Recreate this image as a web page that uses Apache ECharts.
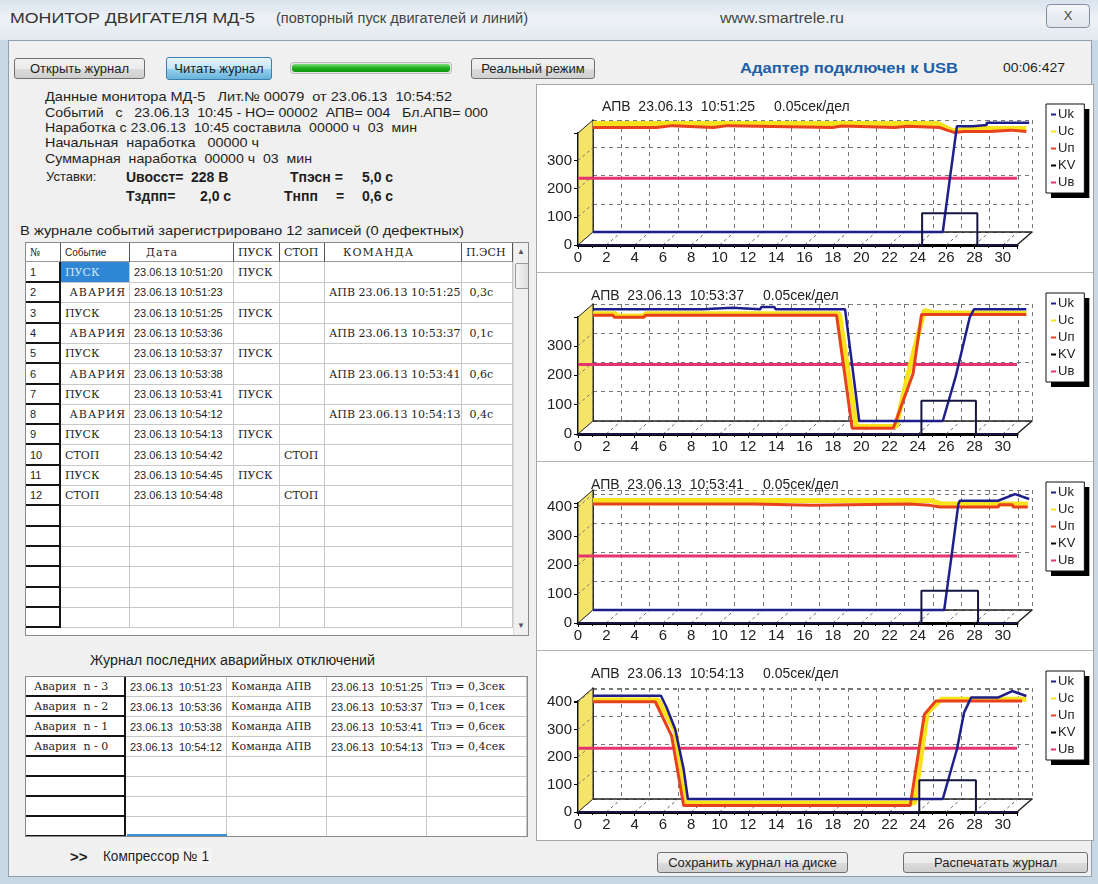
<!DOCTYPE html>
<html>
<head>
<meta charset="utf-8">
<script src="https://cdn.jsdelivr.net/npm/echarts/dist/echarts.min.js"></script>
<style>
html, body { margin: 0; padding: 0; }
body { width: 1098px; height: 884px; position: relative; overflow: hidden; background: #c9d6e3;
       font-family: "Liberation Sans", Arial, sans-serif; color: #1e1e1e; }
.t { position: absolute; white-space: pre; font-size: 13px; line-height: 16px; transform-origin: 0 50%; }
.b { font-weight: bold; font-size: 14px; }
.btn { position: absolute; box-sizing: border-box; border: 1px solid #707070; border-radius: 3px;
       background: linear-gradient(#f2f2f2, #ebebeb 50%, #dcdcdc 51%, #cfcfcf);
       font-size: 13px; text-align: center; white-space: pre; }
.cell { position: absolute; box-sizing: border-box; overflow: hidden; white-space: pre;
        border-right: 1px solid #c8c8c8; border-bottom: 1px solid #c8c8c8; padding-left: 4px; }
.rh { border-right: 2px solid #151515; border-bottom: 2px solid #151515; }
.serif { font-family: "DejaVu Serif", serif; font-size: 11px; }
.sans { font-family: "Liberation Sans", Arial, sans-serif; font-size: 11px; }
.chart { position: absolute; left: 537px; width: 556px; height: 188px; }
.sep { position: absolute; left: 537px; width: 556px; height: 1px; background: #b4b4b4; }
</style>
</head>
<body>

<!-- рамка окна -->
<div style="position:absolute;left:0;top:0;width:1098px;height:40px;background:linear-gradient(#d9e3ed,#eef2f6 45%,#e3e9ef);"></div>
<div class="t" style="left:10px;top:10px;font-size:15px;color:#333;" data-w="245">МОНИТОР ДВИГАТЕЛЯ МД-5</div>
<div class="t" style="left:276px;top:10px;font-size:14px;color:#444;" data-w="252">(повторный пуск двигателей и линий)</div>
<div class="t" style="left:720px;top:10px;font-size:14px;color:#444;" data-w="124">www.smartrele.ru</div>
<div style="position:absolute;left:1046px;top:4px;width:44px;height:24px;box-sizing:border-box;border:1px solid #8090a0;border-radius:4px;background:linear-gradient(#f4f6f9,#dfe5ec);text-align:center;line-height:22px;font-size:13px;color:#444;">X</div>

<div style="position:absolute;left:8px;top:40px;width:1084px;height:837px;box-sizing:border-box;background:#f0f0f0;border:1px solid #8ea0b3;"></div>

<!-- верхняя строка -->
<div class="btn" style="left:14px;top:58px;width:131px;height:21px;line-height:19px;">Открыть журнал</div>
<div class="btn" style="left:166px;top:57px;width:106px;height:23px;line-height:21px;border-color:#3c7fb1;background:linear-gradient(#e5f4fc,#c4e5f6 50%,#98d1ef 51%,#68b3db);">Читать журнал</div>
<div style="position:absolute;left:290px;top:62px;width:162px;height:12px;box-sizing:border-box;border:1px solid #bcbcbc;border-radius:3px;background:#e6e6e6;">
  <div style="position:absolute;left:1px;top:1px;right:1px;bottom:1px;border-radius:3px;background:linear-gradient(#7ce07c,#1fae1f 50%,#0d960d);"></div>
</div>
<div class="btn" style="left:471px;top:58px;width:124px;height:21px;line-height:19px;">Реальный режим</div>
<div class="t b" style="left:740px;top:60px;font-size:14px;color:#1d5fa6;" data-w="218">Адаптер подключен к USB</div>
<div class="t" style="left:1003px;top:60px;font-size:13px;" data-w="62">00:06:427</div>

<!-- сведения -->
<div class="t" style="left:45px;top:89px;" data-w="407">Данные монитора МД-5   Лит.№ 00079  от 23.06.13  10:54:52</div>
<div class="t" style="left:45px;top:105px;" data-w="443">Событий   с   23.06.13  10:45 - НО= 00002  АПВ= 004   Бл.АПВ= 000</div>
<div class="t" style="left:45px;top:120px;" data-w="372">Наработка с 23.06.13  10:45 составила  00000 ч  03  мин</div>
<div class="t" style="left:45px;top:135px;" data-w="214">Начальная  наработка   00000 ч</div>
<div class="t" style="left:45px;top:151px;" data-w="267">Суммарная  наработка  00000 ч  03  мин</div>
<div class="t" style="left:46px;top:169px;">Уставки:</div>
<div class="t b" style="left:126px;top:169px;">Uвосст=</div>
<div class="t b" style="left:191px;top:169px;">228 В</div>
<div class="t b" style="left:290px;top:169px;">Tпэсн =</div>
<div class="t b" style="left:362px;top:169px;">5,0 с</div>
<div class="t b" style="left:126px;top:188px;">Тздпп=</div>
<div class="t b" style="left:200px;top:188px;">2,0 с</div>
<div class="t b" style="left:284px;top:188px;">Тнпп</div>
<div class="t b" style="left:336px;top:188px;">=</div>
<div class="t b" style="left:362px;top:188px;">0,6 с</div>
<div class="t" style="left:20px;top:223px;" data-w="444">В журнале событий зарегистрировано 12 записей (0 дефектных)</div>

<div id="events" style="position:absolute;left:25px;top:242px;width:504px;height:394px;overflow:hidden;background:#fff;border:1px solid #8a8a8a;box-sizing:border-box;"></div>

<div class="t" style="left:90px;top:652px;font-size:14px;" data-w="285">Журнал последних аварийных отключений</div>
<div id="alarms" style="position:absolute;left:25px;top:676px;width:503px;height:161px;overflow:hidden;background:#fff;border:1px solid #8a8a8a;box-sizing:border-box;"></div>

<div class="t" style="left:70px;top:849px;font-size:15px;font-weight:bold;">&gt;&gt;</div>
<div class="t" style="left:100px;top:848px;padding:0 3px;font-size:14px;background:#f4f4f4;" data-w="112">Компрессор № 1</div>

<!-- графики -->
<div style="position:absolute;left:536px;top:84px;width:558px;height:757px;box-sizing:border-box;background:#fff;border:1px solid #a5a5a5;"></div>
<div class="chart" id="c0" style="top:84px;"></div>
<div class="chart" id="c1" style="top:273px;"></div>
<div class="chart" id="c2" style="top:462px;"></div>
<div class="chart" id="c3" style="top:651px;"></div>
<div class="sep" style="top:272px;"></div>
<div class="sep" style="top:461px;"></div>
<div class="sep" style="top:650px;"></div>

<div class="btn" style="left:657px;top:852px;width:191px;height:21px;line-height:19px;">Сохранить журнал на диске</div>
<div class="btn" style="left:903px;top:852px;width:185px;height:21px;line-height:19px;">Распечатать журнал</div>

<script>
// журнал событий
var eventHead = ['№', 'Событие', 'Дата', 'ПУСК', 'СТОП', 'КОМАНДА', 'П.ЭСН'];
var eventRows = [
    ['1', 'ПУСК', '23.06.13 10:51:20', 'ПУСК', '', '', ''],
    ['2', ' АВАРИЯ', '23.06.13 10:51:23', '', '', 'АПВ 23.06.13 10:51:25', ' 0,3с'],
    ['3', 'ПУСК', '23.06.13 10:51:25', 'ПУСК', '', '', ''],
    ['4', ' АВАРИЯ', '23.06.13 10:53:36', '', '', 'АПВ 23.06.13 10:53:37', ' 0,1с'],
    ['5', 'ПУСК', '23.06.13 10:53:37', 'ПУСК', '', '', ''],
    ['6', ' АВАРИЯ', '23.06.13 10:53:38', '', '', 'АПВ 23.06.13 10:53:41', ' 0,6с'],
    ['7', 'ПУСК', '23.06.13 10:53:41', 'ПУСК', '', '', ''],
    ['8', ' АВАРИЯ', '23.06.13 10:54:12', '', '', 'АПВ 23.06.13 10:54:13', ' 0,4с'],
    ['9', 'ПУСК', '23.06.13 10:54:13', 'ПУСК', '', '', ''],
    ['10', 'СТОП', '23.06.13 10:54:42', '', 'СТОП', '', ''],
    ['11', 'ПУСК', '23.06.13 10:54:45', 'ПУСК', '', '', ''],
    ['12', 'СТОП', '23.06.13 10:54:48', '', 'СТОП', '', '']
];
// журнал аварийных отключений
var alarmRows = [
    ['Авария  n - 3', '23.06.13  10:51:23', 'Команда АПВ', '23.06.13  10:51:25', 'Tпэ = 0,3сек'],
    ['Авария  n - 2', '23.06.13  10:53:36', 'Команда АПВ', '23.06.13  10:53:37', 'Tпэ = 0,1сек'],
    ['Авария  n - 1', '23.06.13  10:53:38', 'Команда АПВ', '23.06.13  10:53:41', 'Tпэ = 0,6сек'],
    ['Авария  n - 0', '23.06.13  10:54:12', 'Команда АПВ', '23.06.13  10:54:13', 'Tпэ = 0,4сек']
];

// осциллограммы: Uk, Uc, Uп - на задней стенке, KV и Uв - на передней
var seriesNames = ['Uk', 'Uc', 'Uп', 'KV', 'Uв'];
var chartTitles = ['АПВ  23.06.13  10:51:25', 'АПВ  23.06.13  10:53:37', 'АПВ  23.06.13  10:53:41', 'АПВ  23.06.13  10:54:13'];
var xTicks = [0, 2, 4, 6, 8, 10, 12, 14, 16, 18, 20, 22, 24, 26, 28, 30];
var yMax = [398, 398, 414, 404];
var ubLevel = [237, 236, 231, 232];

var uk1 = [[0,0],[24.7,0],[25.2,190],[25.7,376],[26.8,376],[26.8,380],[27.8,380],[27.8,388],[30.8,388]];
var uc1 = [[0,386],[24.3,386],[24.8,375],[25.4,360],[26,362],[26.6,368],[30.6,368]];
var un1 = [[0,371],[4.5,371],[4.6,378],[5.6,378],[5.7,371],[8.5,371],[8.6,378],[9.5,378],[9.6,371],[16.9,371],[17,377],[17.6,377],[17.7,371],
           [21.3,371],[21.4,376],[22.2,376],[22.3,371],[24.5,371],[25,362],[25.5,354],[26.2,357],[28,357],[28.1,362],[29.5,362],[29.6,357],[30.6,357]];
var kv1 = [[0,0],[24.3,0],[24.3,113],[28.2,113],[28.2,0],[31,0]];

var uk2 = [[0,380],[7.8,380],[7.9,385],[9.8,385],[9.9,380],[11.8,380],[11.9,388],[12.8,388],[12.9,380],[17.8,380],[18.8,0],[24.7,0],[25.6,149],[26.6,352],[26.9,380],[30.6,380]];
var uc2 = [[0,365],[1.6,365],[1.7,357],[3.6,357],[3.7,365],[17.4,365],[18.6,-19],[21.4,-19],[22.3,170],[23.4,376],[24.1,368],[30.6,366]];
var un2 = [[0,360],[1.4,360],[1.5,353],[3.6,353],[3.7,360],[17.2,360],[18.3,-25],[21.2,-25],[22.6,161],[23.2,362],[30.6,362]];
var kv2 = [[0,0],[24.25,0],[24.25,113],[28.1,113],[28.1,0],[31,0]];

var uk3 = [[0,0],[24.8,0],[25.3,180],[25.8,365],[25.9,377],[28.6,377],[29.8,400],[30.8,383]];
var uc3 = [[0,378],[23.8,378],[24.6,366],[30.7,366]];
var un3 = [[0,366],[11.3,366],[11.4,361],[15.5,361],[15.6,366],[22.3,366],[22.4,361],[23.8,361],[24.5,355],[28.6,355],[28.7,363],[29.6,363],[29.7,355],[30.7,355]];
var kv3 = [[0,0],[24.25,0],[24.25,111],[28.25,111],[28.25,0],[31,0]];

var uk4 = [[0,376],[4.8,376],[5.2,333],[5.8,255],[6.4,109],[6.7,0],[24.7,0],[25.7,181],[26.2,314],[26.7,369],[28.6,369],[29.6,393],[30.6,375]];
var uc4 = [[0,360],[4.6,360],[5.8,248],[6.6,-15],[22.7,-15],[23.6,314],[24.6,363],[30.6,363]];
var un4 = [[0,354],[4.4,354],[5.55,230],[6.4,-24],[22.4,-24],[23.4,308],[24.2,357],[30.3,357]];
var kv4 = [[0,0],[24.1,0],[24.1,116],[28.1,116],[28.1,0],[31,0]];

var ukData = [uk1, uk2, uk3, uk4];
var ucData = [uc1, uc2, uc3, uc4];
var unData = [un1, un2, un3, un4];
var kvData = [kv1, kv2, kv3, kv4];

// разметка графиков (в пикселях внутри блока)
var FONT = '"Liberation Sans", Arial, sans-serif';
var FX = 41, PW = 439, ZERO = 161, DX = 15, DY = 13, XMAX = 31;
var plotH = [112, 117, 120, 111];
var titleLeft = [60, 49, 49, 49];
var colors = { 'Uk': '#1f1f8a', 'Uc': '#f7e21b', 'Uп': '#e8411e', 'KV': '#15153f', 'Uв': '#e5336f' };

function fitText() {
    var els = document.querySelectorAll('[data-w]');
    for (var i = 0; i < els.length; i++) {
        var w = els[i].getBoundingClientRect().width;
        els[i].style.transform = 'scaleX(' + (parseFloat(els[i].getAttribute('data-w')) / w) + ')';
    }
}

function addCell(box, x, y, w, h, text, cls, extra) {
    var d = document.createElement('div');
    d.className = 'cell ' + cls;
    d.style.left = x + 'px'; d.style.top = y + 'px';
    d.style.width = w + 'px'; d.style.height = h + 'px';
    d.style.lineHeight = h + 'px';
    if (extra) d.style.cssText += extra;
    d.textContent = text;
    box.appendChild(d);
    return d;
}

function buildEvents() {
    var box = document.getElementById('events');
    var xs = [0, 35, 104, 208, 254, 299, 436, 487];
    var fonts = ['sans', 'serif', 'sans', 'serif', 'serif', 'serif', 'serif'];
    var i, j;
    for (j = 0; j < 7; j++) {
        addCell(box, xs[j], 0, xs[j + 1] - xs[j], 19, eventHead[j],
            j === 1 ? 'sans' : 'serif', 'border-right:1px solid #555;border-bottom:1px solid #999;font-size:' + (j === 1 ? 10 : 11) + 'px;' + (j === 2 ? 'padding-left:16px;letter-spacing:1px;' : '') + (j === 5 ? 'padding-left:18px;letter-spacing:1px;' : ''));
    }
    for (i = 0; i < 18; i++) {
        var y = 19 + Math.round(i * 20.3);
        var row = eventRows[i] || ['', '', '', '', '', '', ''];
        for (j = 0; j < 7; j++) {
            var cls = j === 0 ? 'sans rh' : fonts[j];
            var extra = '';
            if (j === 1 && row[1].charAt(0) === ' ') extra = 'letter-spacing:1px;';
            if (i === 0 && j === 1) extra = 'background:#2f86d4;color:#cfeaff;';
            addCell(box, xs[j], y, xs[j + 1] - xs[j], 21, row[j], cls, extra);
        }
    }
    // полоса прокрутки
    var sb = document.createElement('div');
    sb.style.cssText = 'position:absolute;left:487px;top:0;width:16px;height:394px;background:#f0f0f0;border-left:1px solid #ddd;';
    sb.innerHTML = '<div style="position:absolute;left:3px;top:4px;font-size:8px;color:#555;">▲</div>' +
        '<div style="position:absolute;left:1px;top:20px;width:13px;height:24px;border:1px solid #999;border-radius:2px;background:linear-gradient(90deg,#f4f4f4,#dcdcdc);"></div>' +
        '<div style="position:absolute;left:3px;top:378px;font-size:8px;color:#555;">▼</div>';
    box.appendChild(sb);
}

function buildAlarms() {
    var box = document.getElementById('alarms');
    var xs = [0, 100, 201, 301, 401, 501];
    for (var i = 0; i < 8; i++) {
        var row = alarmRows[i] || ['', '', '', '', ''];
        for (var j = 0; j < 5; j++) {
            var cls = (j === 0 ? 'serif rh' : (j % 2 === 1 ? 'sans' : 'serif'));
            addCell(box, xs[j], i * 20, xs[j + 1] - xs[j], 20, row[j], cls, j === 0 ? 'padding-left:8px;' : '');
        }
    }
    var sel = document.createElement('div');
    sel.style.cssText = 'position:absolute;left:101px;top:157px;width:100px;height:2px;background:#3b8fd9;';
    box.appendChild(sel);
}

function chartOption(k) {
    var H = plotH[k], top = ZERO - H, max = yMax[k];
    var dataMin = -DY * max / H;
    function line(name, axis, data, width) {
        return {
            name: name, type: 'line', xAxisIndex: axis, yAxisIndex: axis,
            data: data, showSymbol: false, clip: false, color: colors[name],
            lineStyle: { width: width, color: colors[name] }
        };
    }
    var ub = [[0, ubLevel[k]], [XMAX, ubLevel[k]]];
    // легенда: маркер - короткий штрих цвета серии (у KV - чёрный)
    var legendItems = seriesNames.map(function (n) {
        var c = n === 'KV' ? '#000' : colors[n];
        return { name: n, itemStyle: { color: c } };
    });
    var legendBase = {
        orient: 'vertical', left: 509, top: 20, icon: 'rect', itemWidth: 5, itemHeight: 2,
        itemGap: 4, padding: [4, 9, 4, 5], selectedMode: false
    };
    // первая легенда - белый фон с тенью, вторая - только рамка поверх
    var legendFill = Object.assign({}, legendBase, {
        backgroundColor: '#fff', borderWidth: 0,
        shadowColor: '#000', shadowOffsetX: 5, shadowOffsetY: 5, shadowBlur: 0,
        itemStyle: { borderWidth: 0 },
        textStyle: { fontSize: 13, color: '#222', fontFamily: FONT, padding: [0, 0, 0, -3] },
        data: legendItems
    });
    var legendFrame = Object.assign({}, legendBase, {
        backgroundColor: 'transparent', borderColor: '#111', borderWidth: 1,
        itemStyle: { opacity: 0, borderWidth: 0 },
        textStyle: { fontSize: 13, color: 'rgba(0,0,0,0)', fontFamily: FONT, padding: [0, 0, 0, -3] },
        data: seriesNames
    });
    return {
        animation: false,
        title: {
            left: titleLeft[k], top: 11,
            text: '{a|' + chartTitles[k] + '}{b|0.05сек/дел}',
            textStyle: { fontWeight: 'normal', rich: {
                a: { fontSize: 14, color: '#222', fontFamily: FONT, fontWeight: 'normal', width: 172 },
                b: { fontSize: 14, color: '#222', fontFamily: FONT, fontWeight: 'normal' }
            } }
        },
        legend: [legendFill, legendFrame],
        grid: [
            { left: FX, top: top, width: PW, height: H, outerBoundsMode: 'none' },
            { left: FX + DX, top: top - DY, width: PW, height: H, outerBoundsMode: 'none' },
            { left: FX + DX, top: top - DY, width: PW, height: H + DY, outerBoundsMode: 'none' }
        ],
        xAxis: [
            { type: 'value', gridIndex: 0, min: 0, max: XMAX, interval: 2,
              axisLine: { show: true, lineStyle: { color: '#000', width: 3 } },
              axisTick: { show: true, length: 4, lineStyle: { color: '#000' } },
              minorTick: { show: true, splitNumber: 2, length: 3, lineStyle: { color: '#000' } },
              axisLabel: { fontSize: 15, color: '#222', fontFamily: FONT, margin: 5,
                           formatter: function (v) { return xTicks.indexOf(v) >= 0 ? String(v) : ''; } },
              splitLine: { show: false } },
            { type: 'value', gridIndex: 1, min: 0, max: XMAX, interval: 2, position: 'top',
              axisLine: { show: true, lineStyle: { color: '#222', width: 1.5 } },
              axisTick: { show: false }, axisLabel: { show: false },
              splitLine: { show: true, lineStyle: { color: '#777', type: [4, 4], width: 1 } } },
            { type: 'value', gridIndex: 2, min: 0, max: XMAX, show: false }
        ],
        yAxis: [
            { type: 'value', gridIndex: 0, min: 0, max: max, interval: 100,
              axisLine: { show: true, lineStyle: { color: '#000', width: 2 } },
              axisTick: { show: true, length: 4, lineStyle: { color: '#000' } },
              axisLabel: { fontSize: 15, color: '#222', fontFamily: FONT, margin: 6,
                           formatter: function (v) { return v % 100 === 0 ? String(v) : ''; } },
              splitLine: { show: false } },
            { type: 'value', gridIndex: 1, min: 0, max: max, interval: 100, position: 'right',
              axisLine: { show: true, lineStyle: { color: '#222', width: 1.5 } },
              axisTick: { show: false }, axisLabel: { show: false },
              splitLine: { show: true, lineStyle: { color: '#777', type: [4, 4], width: 1 } } },
            { type: 'value', gridIndex: 2, min: dataMin, max: max, show: false }
        ],
        series: [
            line('Uв', 0, ub, 3),
            line('Uc', 2, ucData[k], 5),
            line('Uп', 2, unData[k], 3),
            line('Uk', 2, ukData[k], 2.5),
            line('KV', 0, kvData[k], 2)
        ]
    };
}

// 3D-отделка: жёлтая стенка и пол, по шкалам осей
function decorate(chart, k) {
    var max = yMax[k];
    function p(g, x, y) { return chart.convertToPixel({ xAxisIndex: g, yAxisIndex: g }, [x, y]); }
    var els = [{
        type: 'polygon', z: 1,
        shape: { points: [p(0, 0, max), p(1, 0, max), p(1, 0, 0), p(0, 0, 0)] },
        style: { fill: '#f4e46a', stroke: '#222', lineWidth: 1 }
    }];
    xTicks.forEach(function (x) {
        var a = p(0, x, 0), b = p(1, x, 0);
        els.push({ type: 'line', z: 1, shape: { x1: a[0], y1: a[1], x2: b[0], y2: b[1] },
                   style: { stroke: '#666', lineWidth: 1, lineDash: [3, 3] } });
    });
    for (var y = 100; y < max; y += 100) {
        var a = p(0, 0, y), b = p(1, 0, y);
        els.push({ type: 'line', z: 1, shape: { x1: a[0], y1: a[1], x2: b[0], y2: b[1] },
                   style: { stroke: '#777', lineWidth: 1, lineDash: [3, 3] } });
    }
    var r1 = p(0, XMAX, 0), r2 = p(1, XMAX, 0);
    els.push({ type: 'line', z: 1, shape: { x1: r1[0], y1: r1[1], x2: r2[0], y2: r2[1] },
               style: { stroke: '#222', lineWidth: 1.5 } });
    chart.setOption({ graphic: els });
}

buildEvents();
buildAlarms();
fitText();

for (var k = 0; k < 4; k++) {
    var chart = echarts.init(document.getElementById('c' + k));
    chart.setOption(chartOption(k));
    decorate(chart, k);
}
</script>
</body>
</html>
